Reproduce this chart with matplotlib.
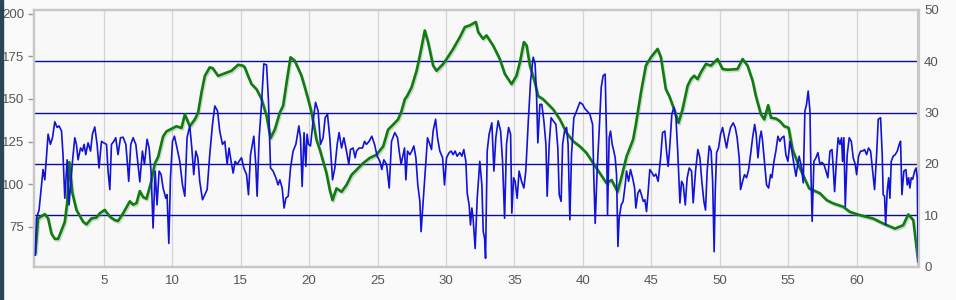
import numpy as np
import matplotlib
matplotlib.use("Agg")
import matplotlib.pyplot as plt
import matplotlib.patheffects as pe
from matplotlib.transforms import blended_transform_factory
from matplotlib.patches import Rectangle

plt.rcParams['font.family'] = ['Liberation Sans', 'DejaVu Sans']

# distance (km)
green_x = [0.0, 0.20, 0.69, 0.93, 1.18, 1.42, 1.66, 1.91, 2.15, 2.32, 2.48, 2.70, 3.00, 3.49, 3.73,
           4.10, 4.46, 4.71, 5.07, 5.44, 5.80, 6.04, 6.41, 6.90, 7.14, 7.39, 7.63, 7.87, 8.12, 8.48,
           8.72, 8.97, 9.33, 9.58, 9.82, 10.31, 10.68, 10.92, 11.28, 11.65, 11.89, 12.14, 12.38,
           12.74, 12.96, 13.35, 13.84, 14.33, 14.81, 15.16, 15.30, 15.54, 15.79, 16.16, 16.52,
           16.89, 17.18, 17.49, 17.86, 18.10, 18.39, 18.64, 18.95, 19.44, 19.69, 19.93, 20.18,
           20.54, 20.78, 21.27, 21.51, 21.71, 22.00, 22.37, 22.73, 23.10, 23.46, 23.95, 24.43,
           24.92, 25.41, 25.77, 26.02, 26.50, 26.75, 26.99, 27.16, 27.48, 27.85, 28.09, 28.45,
           28.69, 29.06, 29.31, 29.79, 30.04, 30.52, 31.01, 31.38, 31.74, 32.18, 32.35, 32.71,
           32.96, 33.44, 33.93, 34.30, 34.79, 35.15, 35.40, 35.69, 35.89, 36.13, 36.49, 36.73,
           37.10, 37.83, 38.32, 38.81, 39.29, 39.78, 40.27, 40.75, 41.24, 41.73, 42.10, 42.53,
           42.83, 43.19, 43.67, 43.87, 44.24, 44.60, 44.97, 45.46, 45.70, 46.06, 46.31, 46.67,
           46.99, 47.28, 47.65, 47.89, 48.13, 48.38, 48.62, 48.99, 49.35, 49.84, 50.21, 50.57,
           51.30, 51.67, 52.03, 52.40, 52.64, 53.01, 53.25, 53.54, 53.74, 54.10, 54.39, 54.71,
           55.03, 55.32, 55.80, 56.53, 57.32, 57.81, 58.29, 59.02, 59.51, 60.24, 61.21, 61.94,
           62.80, 63.40, 63.77, 64.14, 64.50]
# elevation (left axis)
green_y = [60, 80, 82.5, 80, 71, 68, 68, 73, 78, 89, 113, 95, 85, 78, 76.5,
           80, 80.5, 83, 85, 81, 79, 78.5, 83, 90, 88, 89, 96, 92.5, 91.5, 102,
           112, 116, 128, 131, 132, 134, 133, 141, 134, 138, 142, 154, 163.5,
           168.5, 168, 163.5, 165, 166.5, 170, 169.5, 168.5, 163.5, 158.7, 155.7, 150,
           140, 127, 132, 142, 146, 161.6, 174.4, 172.4, 163.6, 156.7, 149.8, 142,
           126, 120.3, 106.5, 96.6, 90.7, 97.6, 95.6, 99.6, 105.5, 108.4, 112.4, 115.4,
           117.3, 122.2, 132, 134, 138, 142.9, 149.8, 151.7, 156.7, 166.5, 175.4, 190.1,
           183.3, 169.5, 166.5, 170.5, 173.4, 179.3, 186.2, 192.1, 193.1, 195.1, 189.2, 185.2,
           187.2, 181.3, 173.4, 164.6, 158.7, 163.6, 171.5, 183.3, 181.3, 169.5, 159.7, 151.7,
           149.8, 143.9, 138, 130.1, 125.2, 122.2, 118.3, 112.4, 106.5, 100.6, 102.5, 95.6,
           104.5, 116.3, 126.2, 135, 153.7, 169.5, 174.4, 179.3, 174.4, 155.7, 151.7, 143.9,
           136, 143.9, 157.7, 161.6, 163.6, 161.6, 165.6, 170.5, 169.5, 173.4, 167.5, 167.1,
           167.5, 173.4, 169.5, 160.6, 151.7, 140.9, 138, 146.3, 139, 138.5, 137, 134,
           133.1, 120.3, 110.4, 97.6, 94.7, 90.7, 88.8, 86.8, 83.8, 81.9, 79.9, 77,
           74, 76, 82.3, 79, 54.6]

# speed (right axis)
blue_x = [0.0, 0.08, 0.27, 0.45, 0.56, 0.69, 0.93, 1.10, 1.25, 1.42, 1.59, 1.73, 1.91, 2.02, 2.15,
          2.32, 2.46, 2.56, 2.71, 2.88, 3.00, 3.12, 3.30, 3.44, 3.56, 3.68, 3.85, 4.03, 4.17, 4.34,
          4.51, 4.65, 4.83, 5.00, 5.20, 5.31, 5.44, 5.56, 5.73, 5.87, 6.04, 6.22, 6.41, 6.61, 6.73,
          6.82, 6.97, 7.14, 7.34, 7.50, 7.63, 7.82, 7.97, 8.16, 8.31, 8.45, 8.60, 8.75, 8.89, 9.04,
          9.19, 9.33, 9.53, 9.62, 9.75, 9.87, 10.02, 10.16, 10.35, 10.55, 10.75, 10.92, 11.08,
          11.28, 11.43, 11.57, 11.72, 11.87, 12.01, 12.21, 12.38, 12.55, 12.74, 12.94, 13.11,
          13.31, 13.47, 13.67, 13.84, 14.01, 14.15, 14.30, 14.45, 14.59, 14.74, 14.88, 15.06,
          15.23, 15.43, 15.57, 15.72, 15.96, 16.10, 16.20, 16.35, 16.52, 16.69, 16.89, 17.03,
          17.18, 17.37, 17.57, 17.73, 17.86, 18.03, 18.17, 18.30, 18.47, 18.64, 18.83, 19.03,
          19.25, 19.37, 19.49, 19.63, 19.76, 19.85, 19.96, 20.10, 20.29, 20.47, 20.66, 20.83,
          21.02, 21.17, 21.34, 21.51, 21.71, 21.88, 22.05, 22.19, 22.37, 22.54, 22.73, 22.90,
          23.02, 23.21, 23.36, 23.46, 23.65, 23.90, 24.05, 24.19, 24.38, 24.58, 24.78, 24.97,
          25.17, 25.31, 25.46, 25.66, 25.85, 26.02, 26.26, 26.46, 26.58, 26.72, 26.82, 26.97,
          27.07, 27.19, 27.36, 27.50, 27.65, 27.80, 27.94, 28.09, 28.18, 28.33, 28.48, 28.65,
          28.82, 28.94, 29.06, 29.24, 29.38, 29.55, 29.75, 29.89, 30.04, 30.23, 30.38, 30.52,
          30.67, 30.81, 31.01, 31.16, 31.30, 31.45, 31.55, 31.69, 31.79, 31.89, 31.98, 32.13,
          32.28, 32.47, 32.62, 32.72, 32.82, 32.89, 33.01, 33.15, 33.35, 33.50, 33.64, 33.81,
          33.99, 34.13, 34.28, 34.42, 34.57, 34.72, 34.81, 34.94, 35.05, 35.20, 35.34, 35.52,
          35.69, 35.83, 36.00, 36.18, 36.37, 36.51, 36.62, 36.71, 36.86, 37.00, 37.15, 37.30,
          37.39, 37.54, 37.68, 37.83, 38.03, 38.17, 38.27, 38.41, 38.52, 38.66, 38.81, 38.92,
          39.05, 39.17, 39.34, 39.54, 39.78, 39.98, 40.14, 40.31, 40.51, 40.71, 40.80, 40.90,
          41.04, 41.19, 41.34, 41.48, 41.63, 41.73, 41.80, 41.92, 42.02, 42.14, 42.26, 42.36,
          42.46, 42.56, 42.65, 42.80, 42.94, 43.09, 43.19, 43.34, 43.48, 43.63, 43.78, 43.87,
          44.02, 44.16, 44.31, 44.41, 44.53, 44.65, 44.77, 44.89, 45.04, 45.19, 45.33, 45.50,
          45.68, 45.82, 45.99, 46.11, 46.23, 46.36, 46.50, 46.65, 46.80, 46.94, 47.09, 47.21,
          47.33, 47.48, 47.62, 47.77, 47.94, 48.06, 48.23, 48.40, 48.55, 48.69, 48.84, 48.96,
          49.08, 49.23, 49.37, 49.48, 49.59, 49.67, 49.77, 49.91, 50.06, 50.21, 50.35, 50.50,
          50.62, 50.79, 50.98, 51.13, 51.27, 51.42, 51.52, 51.67, 51.81, 51.96, 52.11, 52.25,
          52.40, 52.55, 52.66, 52.79, 52.93, 53.03, 53.13, 53.28, 53.42, 53.57, 53.71, 53.81,
          53.96, 54.10, 54.25, 54.39, 54.54, 54.69, 54.83, 54.98, 55.13, 55.27, 55.42, 55.57,
          55.66, 55.80, 55.98, 56.10, 56.22, 56.34, 56.46, 56.59, 56.66, 56.75, 56.88, 57.03,
          57.17, 57.32, 57.46, 57.61, 57.76, 57.90, 58.05, 58.20, 58.29, 58.39, 58.54, 58.65,
          58.78, 58.90, 58.97, 59.07, 59.17, 59.31, 59.46, 59.61, 59.75, 59.90, 60.00, 60.14,
          60.29, 60.44, 60.58, 60.73, 60.87, 61.02, 61.17, 61.31, 61.46, 61.58, 61.75, 61.87,
          61.94, 62.04, 62.12, 62.23, 62.34, 62.43, 62.53, 62.67, 62.82, 62.97, 63.11, 63.21,
          63.31, 63.45, 63.60, 63.70, 63.80, 63.89, 63.99, 64.09, 64.24, 64.34, 64.43, 64.50]
blue_y = [2.2, 9.4, 11, 16, 18.9, 16.9, 25.8, 23.8, 25.1, 28.2, 27.1, 27.4, 26.4, 21.8, 13.3,
          20.8, 12, 15.3, 20.5, 25.1, 23.8, 20.8, 23.1, 22.5, 23.8, 21.8, 24.1, 22.5, 25.8, 27.2,
          23.8, 19.2, 24.4, 24.1, 23.8, 18.6, 15, 23.8, 24.4, 25.1, 21.8, 25.1, 25.2, 23.8, 19.9,
          16.6, 23.8, 25.1, 23.8, 19.9, 16.5, 22.5, 19.9, 24.8, 23.1, 18.6, 7.5, 18.6, 12, 18.6,
          17.9, 15.3, 13.3, 14, 4.5, 17.3, 24.4, 25.4, 23.1, 20.5, 15.9, 13.7, 25.1,
          27.4, 23.1, 17.9, 22.5, 21.2, 16.6, 13, 14, 15, 21.8, 27.7, 31.3,
          30.3, 26.4, 23.8, 24.4, 19.9, 23.1, 20.5, 18.2, 20.5, 19.9, 20.5, 21.2,
          19.2, 17.9, 14, 21.8, 25.4, 19.9, 13.7, 25.1, 31.6, 39.5, 39.3, 32.3,
          19.2, 18.6, 17.3, 15.9, 16.9, 15.3, 11.4, 13.3, 13.7, 19.2, 22.5, 23.8,
          27.4, 25.1, 15.6, 26.1, 19.5, 25.8, 23.8, 23.5, 28.4, 32, 30.3, 23.8,
          25.1, 29, 29.7, 25.1, 16.9, 19.2, 23.8, 26.1, 23.1, 25.1, 22.5, 19.9,
          22.8, 23.1, 21.2, 22.5, 23.1, 23.1, 24.4, 23.8, 24.4, 25.4, 23.8, 21.5,
          20.5, 18.9, 20.8, 19.9, 15.3, 24.4, 26.1, 25.1, 22.5, 19.9, 21.2, 23.1,
          16.9, 22.5, 21.8, 22.5, 23.5, 21.2, 15.9, 12.7, 6.8, 12.7, 18.6, 25.1,
          23.8, 22.8, 26.4, 28.7, 25.1, 22.5, 21.2, 15.9, 21.2, 22.2, 22.5, 21.8,
          22.5, 21.5, 22.2, 21.5, 22.8, 20.5, 14.3, 12, 8.1, 11.4, 9.4, 3.5,
          13.3, 20.5, 15.9, 6.8, 5.5, 1.6, 22.5, 25.8, 28, 18.6, 25.1, 28.4,
          26.4, 20.5, 9.4, 23.8, 27.1, 25.8, 10.4, 17.3, 16.6, 13.3, 18.6, 16.6,
          15.3, 18.6, 27.7, 36.2, 40.8, 39.5, 32.9, 24.1, 31.6, 31.6, 28.4, 23.8,
          13.7, 23.8, 29, 28.4, 27.7, 23.1, 14, 12.7, 23.8, 26.4, 27.1, 23.8,
          9.1, 21.8, 29, 30.3, 32, 31.6, 30.8, 30.3, 29.7, 27.7, 17.3, 8.4,
          18.6, 26.4, 34.9, 37.2, 37.5, 25.1, 10.1, 25.1, 26.4, 23.8, 22.5, 21.2,
          17.9, 3.9, 9.4, 12, 12.7, 15.9, 18.6, 16.6, 18.9, 17.3, 15.3, 11.4,
          14.3, 15, 13.7, 12.7, 13, 10.7, 14.6, 18.9, 18.3, 17.6, 18, 16.6,
          21.2, 26.1, 26.4, 22.5, 19.5, 23.8, 29.7, 31, 29, 21.8, 12.4, 16.6,
          16, 12, 17.3, 19.2, 18.6, 12.4, 18.6, 22.8, 21.2, 16.6, 12.7, 11,
          18.6, 23.5, 22.5, 16.6, 2.9, 14.6, 22.2, 23.1, 25.8, 27.1, 25.1, 23.1,
          25.1, 27.1, 28, 27.1, 25.1, 21.2, 15, 16.6, 17.9, 17.3, 18.9, 21.8,
          25.1, 27.7, 25.8, 21.2, 25.1, 26.4, 24.4, 19.9, 15.9, 15.3, 17.9, 17.3,
          20.5, 22.5, 25.4, 24.4, 25.1, 25.4, 21.8, 20.5, 24.4, 22.5, 19.9, 17.6,
          19.2, 21.5, 19.2, 16.3, 30.3, 31.6, 34.2, 30.3, 18.6, 8.8, 20.5, 21.2,
          22.2, 19.9, 20.3, 19.9, 18.6, 17.3, 22.5, 22.8, 19.2, 14.6, 21.2, 25.1,
          23.8, 25.1, 20.5, 25.1, 11.7, 21.8, 25.1, 24.4, 21.2, 19.9, 17.9, 21.5,
          22.5, 22.5, 22.8, 21.8, 23.1, 22.5, 18.6, 15, 21.8, 28.7, 29, 21.8,
          14, 13.7, 8.1, 14.6, 17.3, 13.3, 20.5, 21.5, 21.8, 22.5, 23.8, 24.4,
          14, 18.6, 18.9, 15.9, 17.3, 15.3, 17.3, 17, 18.6, 19.2, 17.3, 0.9]

left_ticks = [75, 100, 125, 150, 175, 200]
right_ticks = [0, 10, 20, 30, 40, 50]
x_ticks = [5, 10, 15, 20, 25, 30, 35, 40, 45, 50, 55, 60]
grid_right = [10, 20, 30, 40]

fig = plt.figure(figsize=(9.56, 3.0), dpi=100, facecolor='#fafafa')
ax = fig.add_axes([34 / 956, 1 - 266.5 / 300, 884.5 / 956, 256.5 / 300])
ax2 = ax.twinx()

ax.set_facecolor('#f8f8f8')
ax.set_xlim(-0.1, 64.52)
ax.set_ylim(51.8, 202.1)
ax2.set_ylim(0, 50)

# light vertical grid
for xv in x_ticks:
    ax.axvline(xv, color='#d4d4d4', lw=0.9, zorder=1)

# dark blue horizontal lines at right-axis values, kept under the green line
tr = blended_transform_factory(ax.transAxes, ax2.transData)
for gv in grid_right:
    ax.plot([0, 1], [gv, gv], transform=tr, color='#0c0c94', lw=1.0, zorder=2)

ax.plot(green_x, green_y, color='#107c10', lw=1.9, zorder=3, solid_joinstyle='round',
        path_effects=[pe.SimpleLineShadow(offset=(0.8, -1.2), shadow_color='#7a9a7a', alpha=0.35),
                      pe.Normal()])
ax2.plot(blue_x, blue_y, color='#1212d8', lw=1.2, zorder=3, solid_joinstyle='round')

ax.set_xticks(x_ticks)
ax.set_yticks(left_ticks)
ax2.set_yticks(right_ticks)

ax.tick_params(axis='x', length=0, pad=6, labelsize=9.5, labelcolor='#555555')
ax.tick_params(axis='y', length=4, width=1, color='#999999', pad=3, labelsize=9.5, labelcolor='#555555')
ax2.tick_params(axis='y', length=0, pad=4, labelsize=9.5, labelcolor='#555555')

for a in (ax, ax2):
    for s in a.spines.values():
        s.set_color('#c8c8c8')
        s.set_linewidth(1.6)

fig.patches.append(Rectangle((0, 0), 2.5 / 956, 1, transform=fig.transFigure,
                             color='#2a4557', zorder=10))

fig.savefig('out.png', dpi=100, facecolor=fig.get_facecolor())
